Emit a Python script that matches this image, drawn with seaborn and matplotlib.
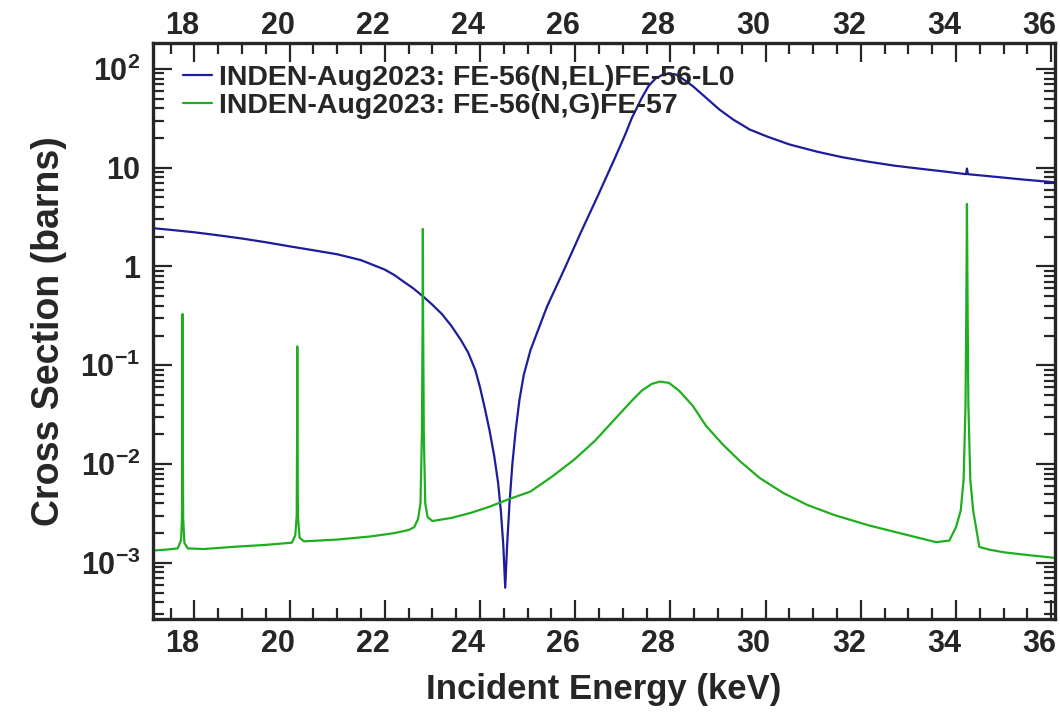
import numpy as np
import pandas as pd
import matplotlib
matplotlib.use("Agg")
import matplotlib.pyplot as plt
import matplotlib.ticker as mticker
import matplotlib.transforms as mtrans
import seaborn as sns

# Elastic scattering FE-56(N,EL) - energies in keV, cross section in barns
el_energy = [17.10, 17.5, 18.0, 18.5, 19.0, 19.5, 20.0, 20.5, 21.0, 21.5, 22.0,
             22.2, 22.4, 22.6, 22.8, 23.0, 23.2, 23.4, 23.6, 23.75, 23.9, 24.0,
             24.1, 24.2, 24.3, 24.38, 24.44, 24.49, 24.53, 24.57, 24.62, 24.68,
             24.75, 24.83, 24.92, 25.06, 25.41, 25.77, 26.12, 26.48, 26.83,
             27.05, 27.19, 27.40, 27.54, 27.69, 27.83, 27.97, 28.11, 28.25,
             28.47, 28.75, 29.03, 29.32, 29.67, 30.03, 30.5, 31.09, 31.6, 32.16,
             32.7, 33.22, 33.8, 34.21, 34.23, 34.25, 34.7, 35.4, 36.1]
el_xs = [2.45, 2.35, 2.22, 2.07, 1.92, 1.76, 1.6, 1.46, 1.33, 1.16, 0.93,
         0.82, 0.70, 0.60, 0.50, 0.41, 0.33, 0.25, 0.18, 0.135, 0.09, 0.06,
         0.037, 0.022, 0.012, 6.5e-3, 3.3e-3, 1.5e-3, 5.6e-4, 1.5e-3, 4e-3, 0.01,
         0.022, 0.045, 0.08, 0.142, 0.395, 0.935, 2.22, 5.25, 12.4,
         21.6, 31.9, 51, 67, 80, 87, 90, 88, 80,
         67, 51, 38.8, 30.7, 24.3, 20.7, 17.2, 14.5, 12.8, 11.5,
         10.5, 9.8, 9.1, 8.6, 9.8, 8.6, 8.2, 7.6, 7.1]

# Capture FE-56(N,G)FE-57
ng_energy = [17.10, 17.40, 17.65, 17.72, 17.74, 17.748, 17.752, 17.756, 17.765,
             17.79, 17.86, 18.2, 18.8, 19.5, 20.05, 20.12, 20.15, 20.158, 20.162,
             20.166, 20.175, 20.21, 20.3, 20.6, 21.0, 21.7, 22.2, 22.5, 22.62,
             22.7, 22.75, 22.78, 22.795, 22.80, 22.805, 22.82, 22.85, 22.9, 23.0,
             23.4, 23.8, 24.2, 24.6, 25.06, 25.52, 25.98, 26.41, 26.83, 27.19,
             27.40, 27.61, 27.78, 27.97, 28.18, 28.47, 28.75, 29.1, 29.46, 29.88,
             30.38, 30.88, 31.45, 32.16, 32.87, 33.58, 33.86, 34.0, 34.1, 34.16,
             34.2, 34.215, 34.23, 34.245, 34.26, 34.3, 34.36, 34.49, 34.7, 35.0,
             35.5, 36.1]
ng_xs = [1.33e-3, 1.36e-3, 1.40e-3, 1.7e-3, 2.8e-3, 0.02, 0.33, 0.02, 2.8e-3,
         1.6e-3, 1.4e-3, 1.38e-3, 1.45e-3, 1.52e-3, 1.6e-3, 1.9e-3, 3e-3, 0.02, 0.155,
         0.02, 3e-3, 1.8e-3, 1.65e-3, 1.68e-3, 1.72e-3, 1.85e-3, 2.0e-3, 2.15e-3, 2.3e-3,
         2.8e-3, 4e-3, 0.02, 0.3, 2.4, 0.3, 0.02, 4e-3, 2.9e-3, 2.65e-3,
         2.85e-3, 3.2e-3, 3.7e-3, 4.4e-3, 5.27e-3, 7.5e-3, 0.0111, 0.0171, 0.0284, 0.0438,
         0.0554, 0.0648, 0.0684, 0.0663, 0.0554, 0.0389, 0.0243, 0.0158, 0.0107, 7.2e-3,
         5.07e-3, 3.85e-3, 3.04e-3, 2.40e-3, 1.97e-3, 1.62e-3, 1.68e-3, 2.3e-3, 3.4e-3, 7e-3,
         0.04, 0.3, 4.3, 0.3, 0.04, 7e-3, 3.4e-3, 1.45e-3, 1.36e-3, 1.28e-3,
         1.2e-3, 1.12e-3]

el_label = "INDEN-Aug2023: FE-56(N,EL)FE-56-L0"
ng_label = "INDEN-Aug2023: FE-56(N,G)FE-57"

el_df = pd.DataFrame({"energy": el_energy, "xs": el_xs})
ng_df = pd.DataFrame({"energy": ng_energy, "xs": ng_xs})

sns.set_style("ticks")
plt.rcParams["font.family"] = ["Liberation Sans", "DejaVu Sans"]
plt.rcParams["font.weight"] = "bold"
plt.rcParams["mathtext.fontset"] = "custom"
plt.rcParams["mathtext.rm"] = "Liberation Sans:bold"
plt.rcParams["mathtext.bf"] = "Liberation Sans:bold"
plt.rcParams["mathtext.default"] = "rm"

fig = plt.figure(figsize=(10.6, 7.12), dpi=100)
ax = fig.add_axes([0.1443, 0.1306, 0.8510, 0.8090])

sns.lineplot(data=el_df, x="energy", y="xs", ax=ax, color="#1c1c9c",
             lw=1.6, label=el_label, sort=False, estimator=None)
sns.lineplot(data=ng_df, x="energy", y="xs", ax=ax, color="#1fae1f",
             lw=1.6, label=ng_label, sort=False, estimator=None)

ax.set_yscale("log")
ax.set_xlim(17.13, 36.08)
ax.set_ylim(2.7e-4, 183)

ax.xaxis.set_major_locator(mticker.MultipleLocator(2))
ax.xaxis.set_minor_locator(mticker.MultipleLocator(0.5))
ax.yaxis.set_major_locator(mticker.FixedLocator([1e-3, 1e-2, 1e-1, 1, 10, 100]))
ax.yaxis.set_minor_locator(mticker.LogLocator(base=10, subs=np.arange(2, 10), numticks=20))
ax.yaxis.set_minor_formatter(mticker.NullFormatter())

ylabels = {1e-3: r"$10^{-3}$", 1e-2: r"$10^{-2}$", 1e-1: r"$10^{-1}$",
           1: "1", 10: "10", 100: r"$10^{2}$"}
ax.yaxis.set_major_formatter(mticker.FuncFormatter(
    lambda v, p: min(ylabels.items(), key=lambda kv: abs(np.log10(kv[0]) - np.log10(v)))[1]))
ax.xaxis.set_major_formatter(mticker.FuncFormatter(lambda v, p: f"{v:.0f}"))

ax.tick_params(which="both", direction="in", top=True, right=True,
               labeltop=True, width=1.6, labelsize=22)
ax.xaxis.set_tick_params(pad=7)
ax.yaxis.set_tick_params(pad=9)
ax.tick_params(which="major", length=14)
ax.tick_params(which="minor", length=8)
for sp in ax.spines.values():
    sp.set_linewidth(2.4)

# labels on the x axes sit a little left of their ticks
fig.canvas.draw()
for tick in ax.xaxis.get_major_ticks():
    tick.label1.set_transform(tick.label1.get_transform()
                              + mtrans.ScaledTranslation(-0.12, 0, fig.dpi_scale_trans))
    tick.label2.set_transform(tick.label2.get_transform()
                              + mtrans.ScaledTranslation(-0.12, -0.08, fig.dpi_scale_trans))

ax.set_xlabel("Incident Energy (keV)", fontsize=25, fontweight="bold", labelpad=10)
ax.set_ylabel("Cross Section (barns)", fontsize=27, fontweight="bold", labelpad=10)

ax.legend(loc="upper left", bbox_to_anchor=(0.033, 0.962), frameon=False,
          fontsize=20.5, handlelength=1.02, handletextpad=0.24, labelspacing=0.08,
          borderpad=0, borderaxespad=0)

fig.savefig("out.png", dpi=100)
